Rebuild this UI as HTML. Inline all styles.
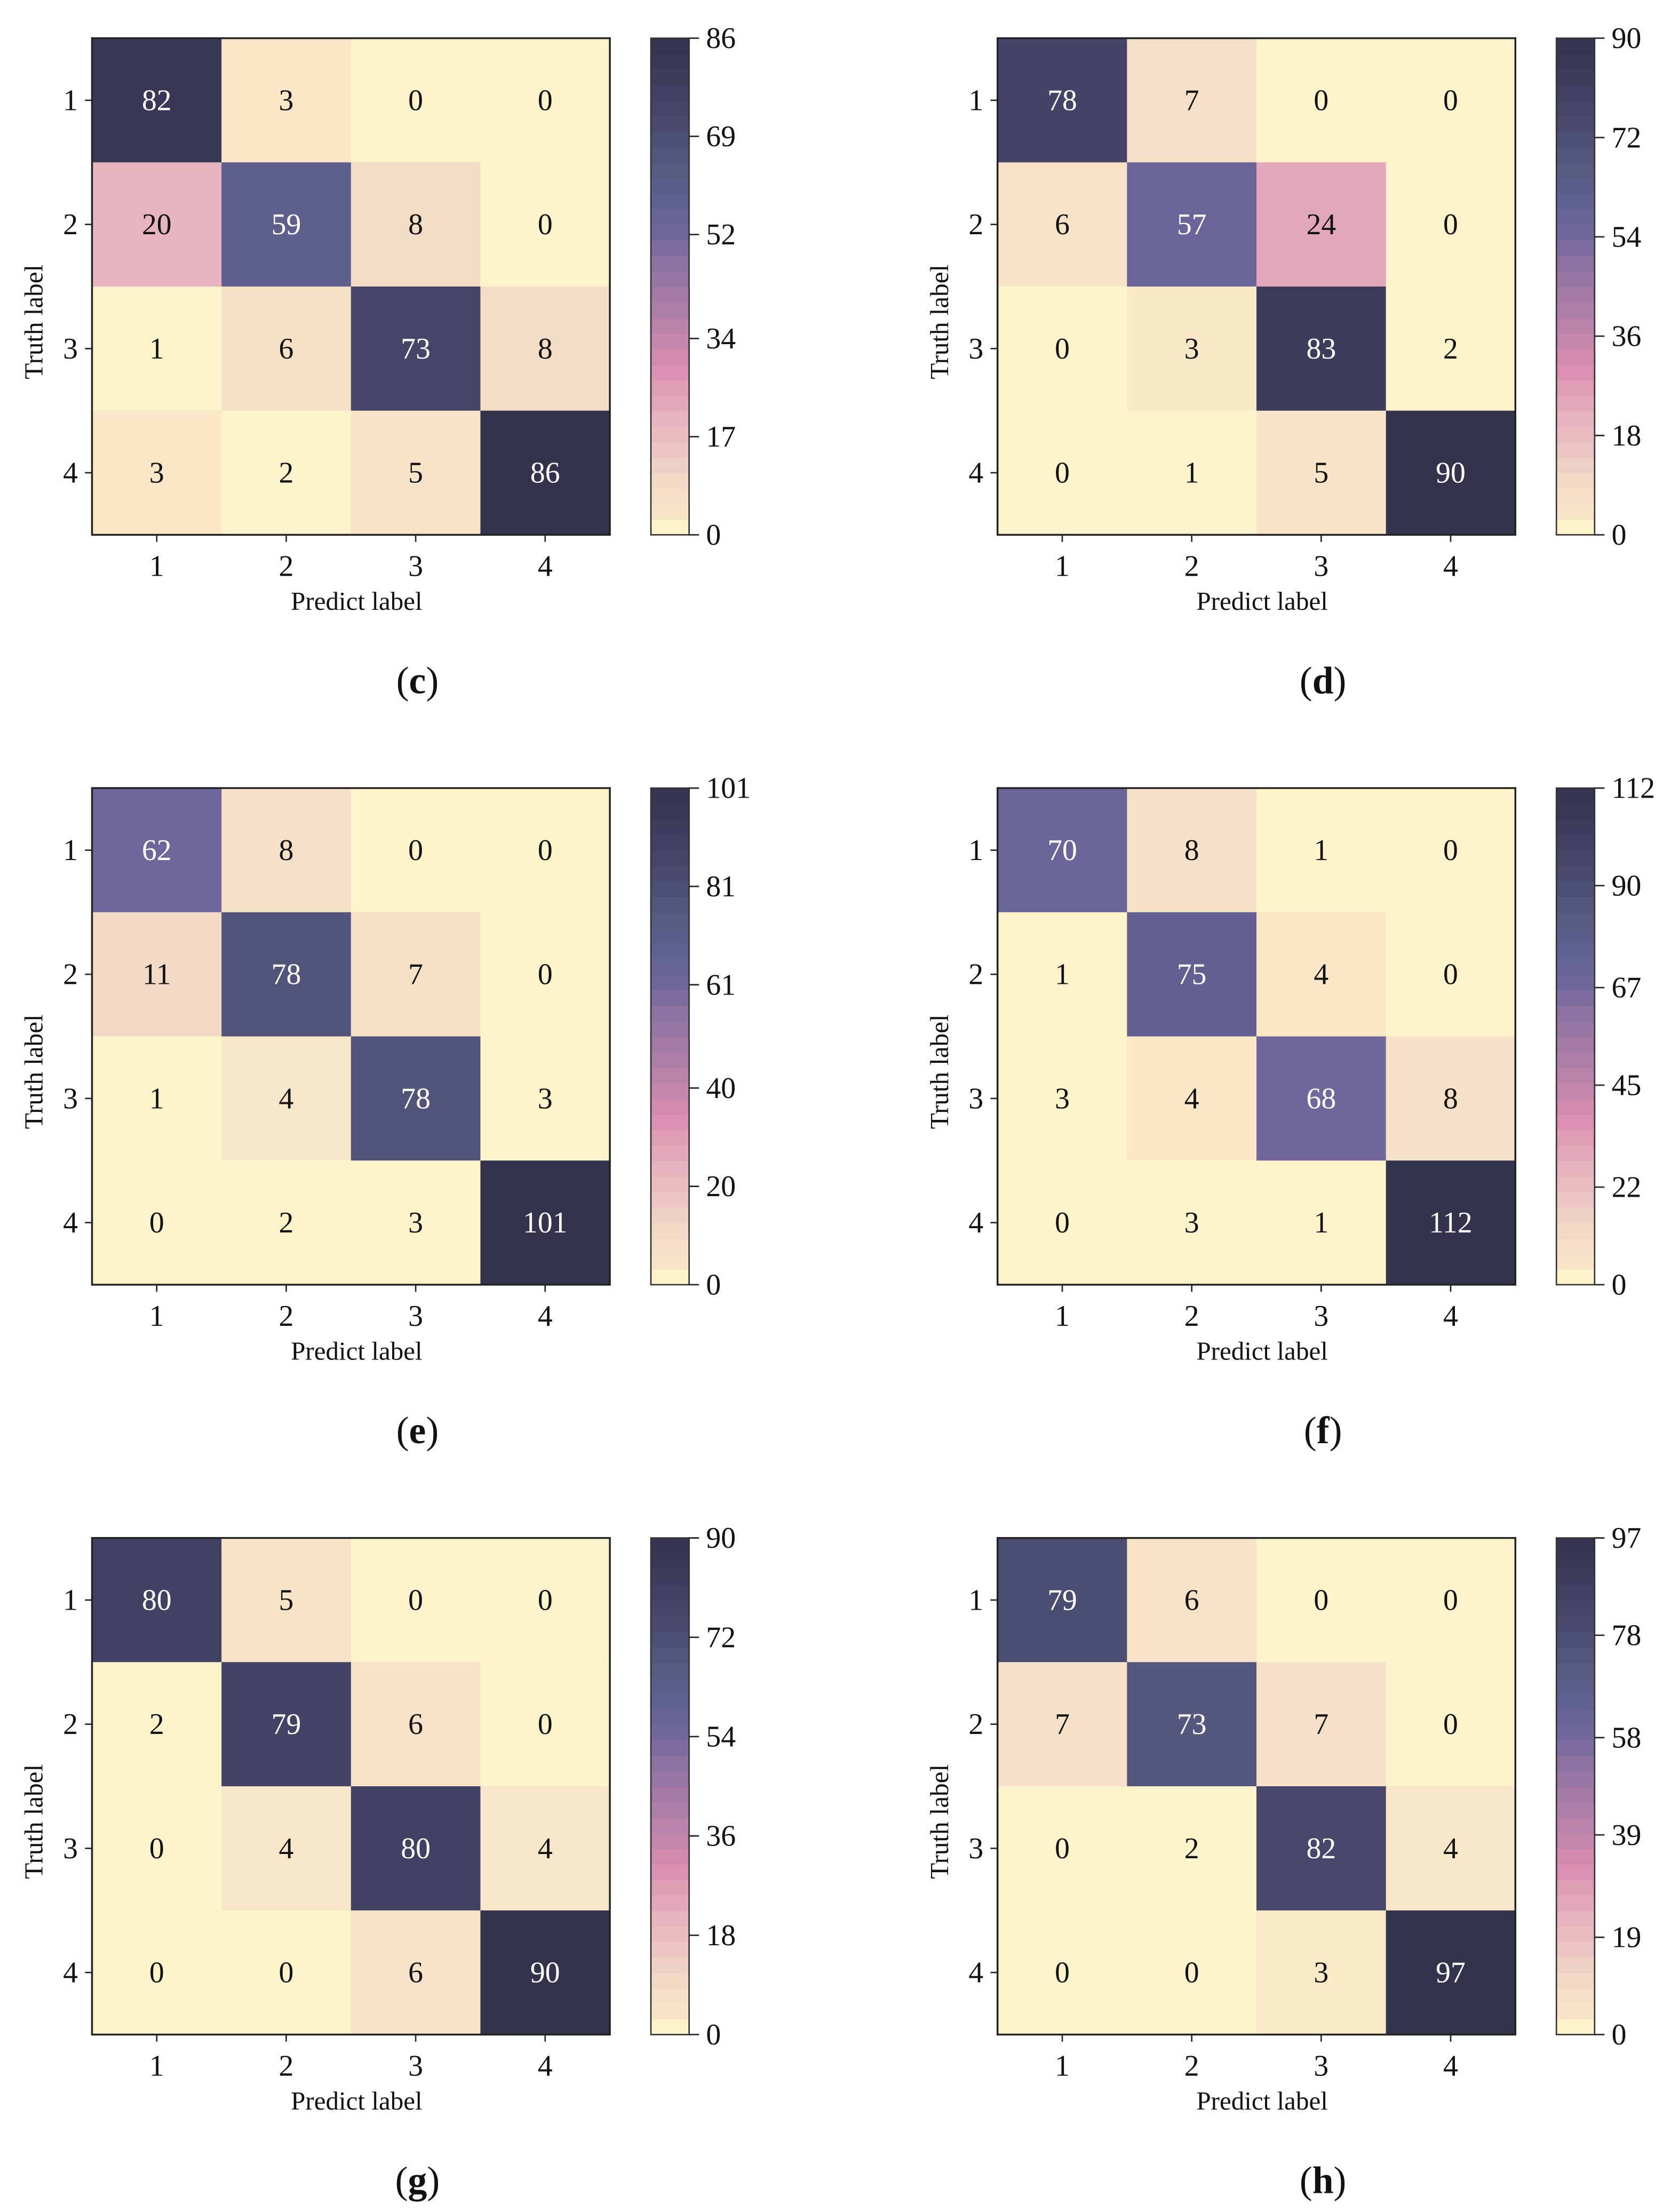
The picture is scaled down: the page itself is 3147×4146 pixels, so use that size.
<!DOCTYPE html>
<html><head><meta charset="utf-8"><style>
html,body{margin:0;padding:0;background:#fff;}
svg{display:block;font-family:"Liberation Serif",serif;}
</style></head><body>
<svg id="fig" width="3147" height="4146" viewBox="0 0 1186.6 1563.4" xmlns="http://www.w3.org/2000/svg"></svg>
<script>
// ---- data ----
const panelLetters = ["c","d","e","f","g","h"];
const classLabels = ["1","2","3","4"];
const matrixC = [[82,3,0,0],[20,59,8,0],[1,6,73,8],[3,2,5,86]];
const matrixD = [[78,7,0,0],[6,57,24,0],[0,3,83,2],[0,1,5,90]];
const matrixE = [[62,8,0,0],[11,78,7,0],[1,4,78,3],[0,2,3,101]];
const matrixF = [[70,8,1,0],[1,75,4,0],[3,4,68,8],[0,3,1,112]];
const matrixG = [[80,5,0,0],[2,79,6,0],[0,4,80,4],[0,0,6,90]];
const matrixH = [[79,6,0,0],[7,73,7,0],[0,2,82,4],[0,0,3,97]];
const cbarTicksC = [0,17,34,52,69,86];
const cbarTicksD = [0,18,36,54,72,90];
const cbarTicksE = [0,20,40,61,81,101];
const cbarTicksF = [0,22,45,67,90,112];
const cbarTicksG = [0,18,36,54,72,90];
const cbarTicksH = [0,19,39,58,78,97];
const matrices = [matrixC,matrixD,matrixE,matrixF,matrixG,matrixH];
const cbarTicks = [cbarTicksC,cbarTicksD,cbarTicksE,cbarTicksF,cbarTicksG,cbarTicksH];

const stops = [[0,"#fdf4cc"],[0.03,"#fdf4cc"],[0.031,"#f9e8c8"],[0.1,"#f3dcc6"],[0.23,"#e7b5bf"],[0.34,"#d88caf"],[0.45,"#ae7ea8"],[0.55,"#8a72a0"],[0.6,"#72699d"],[0.66,"#626194"],[0.74,"#57597f"],[0.85,"#45466a"],[1,"#33334e"]];
function hex(h){return [1,3,5].map(i=>parseInt(h.substr(i,2),16));}
function cmap(t){
  t=Math.max(0,Math.min(1,t));
  for(let i=1;i<stops.length;i++){
    if(t<=stops[i][0]){
      const a=hex(stops[i-1][1]),b=hex(stops[i][1]);
      const f=(t-stops[i-1][0])/(stops[i][0]-stops[i-1][0]);
      return "rgb("+a.map((v,k)=>Math.round(v+(b[k]-v)*f)).join(",")+")";
    }
  }
  return stops[stops.length-1][1];
}
const NS="http://www.w3.org/2000/svg";
const svg=document.getElementById("fig");
function mk(tag,attrs,parent,text){
  const e=document.createElementNS(NS,tag);
  for(const k in attrs)e.setAttribute(k,attrs[k]);
  if(text!==undefined)e.textContent=text;
  (parent||svg).appendChild(e);return e;
}
const HW=366, HH=351, CBW=27, FS=21;
matrices.forEach((m,p)=>{
  const ox=65+(p%2)*640, oy=27+Math.floor(p/2)*530;
  const g=mk("g",{});
  
  
  const vmax=cbarTicks[p][cbarTicks[p].length-1];
  const cw=HW/4, ch=HH/4;
  const xS=j=>ox+cw*(j+0.5), yS=i=>oy+ch*(i+0.5);
  m.forEach((row,i)=>row.forEach((v,j)=>{
    const r=mk("rect",{x:ox+cw*j,y:oy+ch*i,width:cw+0.3,height:ch+0.3,fill:cmap(v/vmax)},g);
    
    
    const t=mk("text",{x:xS(j),y:yS(i)+7,"text-anchor":"middle","font-size":FS,fill:v/vmax>0.5?"#fff":"#111"},g,String(v));
    
    
  }));
  mk("rect",{x:ox,y:oy,width:HW,height:HH,fill:"none",stroke:"#222","stroke-width":1.3},g);
  classLabels.forEach((lab,k)=>{
    mk("line",{x1:xS(k),x2:xS(k),y1:oy+HH,y2:oy+HH+5,stroke:"#222","stroke-width":1},g);
    const xt=mk("text",{x:xS(k),y:oy+HH+29,"text-anchor":"middle","font-size":FS,fill:"#111"},g,lab);
    
    
    mk("line",{x1:ox-5,x2:ox,y1:yS(k),y2:yS(k),stroke:"#222","stroke-width":1},g);
    const yt=mk("text",{x:ox-10,y:yS(k)+7,"text-anchor":"end","font-size":FS,fill:"#111"},g,lab);
    
    
  });
  const xl=mk("text",{x:ox+HW/2+4,y:oy+HH+53,"text-anchor":"middle","font-size":18.5,fill:"#111"},g,"Predict label");
  
  
  const yl=mk("text",{x:0,y:0,"text-anchor":"middle","font-size":18.5,fill:"#111",transform:"translate("+(ox-35)+","+(oy+HH/2+25)+") rotate(-90)"},g,"Truth label");
  
  
  // colorbar
  const cx=ox+395;
  const N=32;
  for(let k=0;k<N;k++){
    mk("rect",{x:cx,y:oy+HH-(k+1)*HH/N,width:CBW,height:HH/N+0.4,fill:cmap((k+0.5)/N)},g);
  }
  const cb=mk("rect",{x:cx,y:oy,width:CBW,height:HH,fill:"none",stroke:"#333","stroke-width":1},g);
  
  
  cbarTicks[p].forEach(tv=>{
    const y=oy+HH-HH*tv/vmax;
    mk("line",{x1:cx+CBW,x2:cx+CBW+7,y1:y,y2:y,stroke:"#222","stroke-width":1},g);
    const ct=mk("text",{x:cx+CBW+12,y:y+7,"font-size":FS,fill:"#111"},g,String(tv));
    
    
  });
  const pl=mk("text",{x:ox+230,y:oy+463,"text-anchor":"middle","font-size":27,fill:"#111"},g);
  
  
  mk("tspan",{},pl,"(");
  mk("tspan",{"font-weight":"bold"},pl,panelLetters[p]);
  mk("tspan",{},pl,")");
});
</script>
</body></html>
